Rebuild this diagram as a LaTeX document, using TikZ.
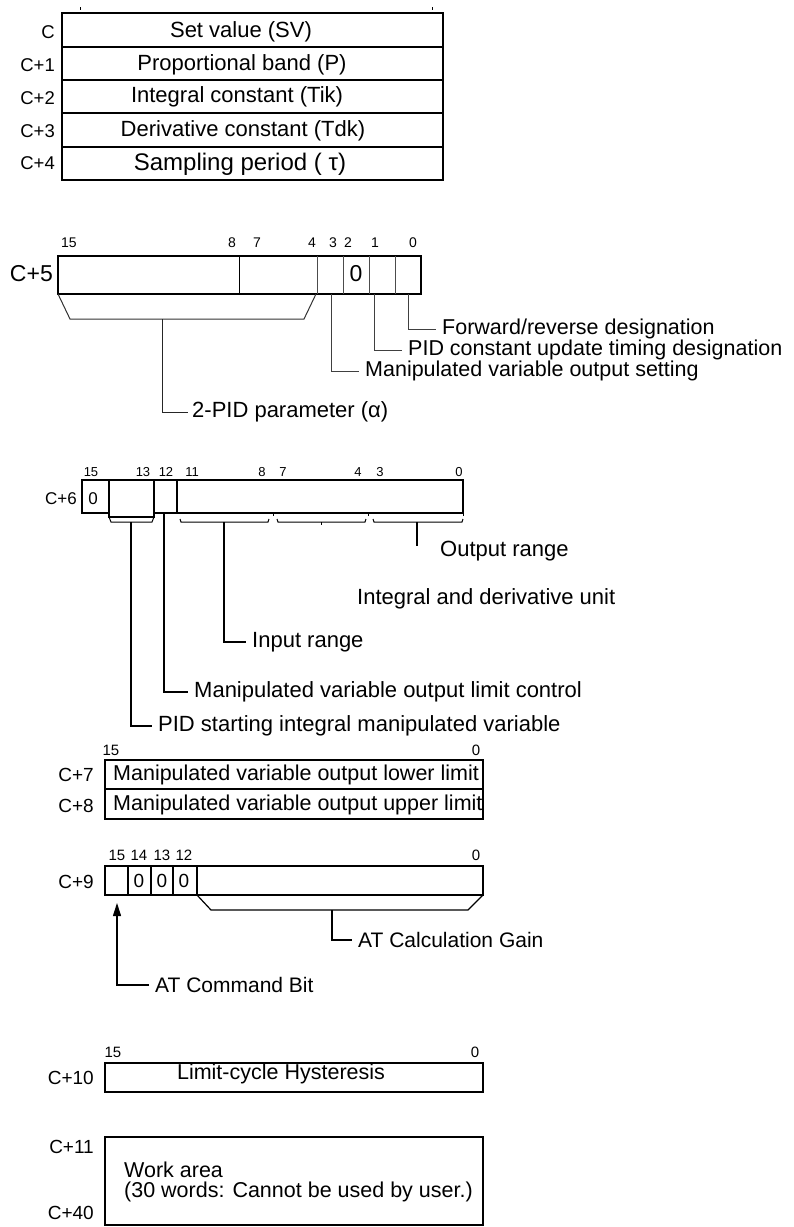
\documentclass[tikz,border=0pt]{standalone}
\usepackage{fontspec}
\setmainfont{Liberation Sans}
\usetikzlibrary{arrows.meta}
\begin{document}
\begin{tikzpicture}[x=1pt,y=-1pt,
  fs/.style={font=\fontsize{#1}{#1}\selectfont},
  txt/.style={fs=22, inner sep=0pt},
  lbl/.style={fs=22, anchor=west, inner sep=0pt},
  reg/.style={fs=19, anchor=east, inner sep=0pt},
  bitno/.style={fs=15, inner sep=0pt},
  smallbit/.style={fs=13, inner sep=0pt},
  heavy/.style={line width=2.6pt},
  lead/.style={line width=1pt},
  gap/.style={xshift=-6pt}
]
\fill[white] (0,0) rectangle (793,1227);
\useasboundingbox (0,0) rectangle (793,1227);

% ---------- C .. C+4 table
\draw[line width=1.3pt] (62,13) rectangle (443,180);
\draw[line width=2pt] (62,13) -- (443,13);
\foreach \y in {47,80,113,147} \draw[line width=1.2pt] (62,\y) -- (443,\y);
\draw[line width=0.8pt] (80,7) -- (80,10);
\draw[line width=0.8pt] (432,7) -- (432,10);
\node[reg, fs=18.5] (rc0) at (55,32) {C};
\node[reg, fs=18.5] (rc1) at (55,65) {C+1};
\node[reg, fs=18.5] (rc2) at (55,98) {C+2};
\node[reg, fs=18.5] (rc3) at (55,131) {C+3};
\node[reg, fs=18.5] (rc4) at (55,163) {C+4};
\node[txt] (tsv) at (241,32) {Set value (SV)};
\node[txt] (tpb) at (242,65) {Proportional band (P)};
\node[txt] (tic) at (237,97) {Integral constant (Tik)};
\node[txt] (tdc) at (243,131) {Derivative constant (Tdk)};
\node[txt, fs=24] (tsp) at (240,164) {Sampling period ( τ)};

% ---------- C+5
\draw[heavy] (58,256) rectangle (421,294);
\draw[line width=1pt] (239,256) -- (239,294);
\foreach \x in {317,343,369,395} \draw[line width=1pt, black!70] (\x,256) -- (\x,294);
\node[reg, fs=23] (r5) at (53,274) {C+5};
\node[txt, fs=23] (z5) at (356,274) {0};
\foreach \x/\t in {69/15,232/8,257/7,312/4,333/3,348/2,375/1,413/0}
  \node[smallbit, fs=14] at (\x,243) {\t};
\draw[lead, black!80] (58,294) -- (70,319) -- (304,319) -- (316,294);
\node[lbl, fs=21.5] (fwd) at (442,329) {Forward/reverse designation};
\node[lbl, fs=21.5] (pidc) at (408,350) {PID constant update timing designation};
\node[lbl, fs=21.5] (mvos) at (365,371) {Manipulated variable output setting};
\node[lbl] (pid2) at (192,412) {2-PID parameter (α)};
\coordinate (s5a) at (408,294);
\coordinate (s5b) at (374,294);
\coordinate (s5c) at (331,294);
\coordinate (s5d) at (162,319);
\draw[lead, black!75] (s5a) |- ([gap]fwd.west);
\draw[lead, black!75] (s5b) |- ([gap]pidc.west);
\draw[lead, black!75] (s5c) |- ([gap]mvos.west);
\draw[lead, black!85] (s5d) |- ([xshift=-4pt]pid2.west);

% ---------- C+6
\draw[line width=1.2pt] (82,480) rectangle (463,513);
\filldraw[fill=white, line width=1.1pt] (109,480) rectangle (154,517);
\draw[line width=1pt] (109,517) -- (111,522) -- (152,522) -- (154,517);
\draw[line width=2pt] (177,480) -- (177,513);
\foreach \x in {273,368,463} \draw[line width=1pt] (\x,513) -- (\x,516);
\draw[line width=1pt] (180,519) -- (181,522) -- (268,522) -- (269,519);
\draw[line width=1pt] (277,519) -- (278,522) -- (365,522) -- (366,519);
\draw[line width=1pt] (373,519) -- (374,522) -- (462,522) -- (463,519);
\draw[line width=1pt] (321,522) -- (321,525);
\node[reg, fs=17] (r6) at (77,499) {C+6};
\node[txt, fs=17] (z6) at (93,499) {0};
\foreach \x/\t in {91/15,143/13,166/12,192/11,262/8,283/7,358/4,380/3,459/0}
  \node[smallbit] at (\x,472) {\t};
\node[lbl] (outr) at (440,551) {Output range};
\node[lbl] (idu) at (357,599) {Integral and derivative unit};
\node[lbl] (inr) at (252,642) {Input range};
\node[lbl] (mvlc) at (194,692) {Manipulated variable output limit control};
\node[lbl] (pids) at (158,726) {PID starting integral manipulated variable};
\coordinate (s6o) at (417,522);
\coordinate (s6oe) at (417,546);
\coordinate (s6i) at (224,522);
\coordinate (s6m) at (164,513);
\coordinate (s6p) at (131,522);
\draw[line width=1.1pt] (s6o) -- (s6oe);
\draw[line width=1.1pt] (s6i) |- ([gap]inr.west);
\draw[line width=1.1pt] (s6m) |- ([gap]mvlc.west);
\draw[line width=1.1pt] (s6p) |- ([gap]pids.west);

% ---------- C+7 / C+8
\draw[heavy] (105,760) rectangle (483,819);
\draw[line width=1.5pt] (105,789) -- (483,789);
\node[bitno] at (111,750) {15};
\node[bitno] at (476,750) {0};
\node[reg] (r7) at (94,775) {C+7};
\node[reg] (r8) at (94,806) {C+8};
\node[lbl, fs=21.5] (lo) at (113,775) {Manipulated variable output lower limit};
\node[lbl, fs=21.5] (up) at (113,805) {Manipulated variable output upper limit};

% ---------- C+9
\draw[heavy] (105,866) rectangle (483,895);
\foreach \x in {128,151,173,197} \draw[line width=2pt] (\x,866) -- (\x,895);
\foreach \x in {139,162,184} \node[txt, fs=19] at (\x,881) {0};
\node[reg] (r9) at (94,882) {C+9};
\foreach \x/\t in {117/15,139/14,162/13,184/12,476/0}
  \node[bitno] at (\x,855) {\t};
\draw[line width=1.2pt] (197,895) -- (211,910) -- (468,910) -- (483,895);
\node[lbl, fs=21] (atg) at (358,940) {AT Calculation Gain};
\node[lbl, fs=21] (atc) at (155,985) {AT Command Bit};
\coordinate (s9g) at (332,910);
\coordinate (s9a) at (117,903);
\draw[line width=1.1pt] (s9g) |- ([gap]atg.west);
\draw[line width=1.1pt, -{Triangle[length=13pt,width=8pt]}] ([gap]atc.west) -| (s9a);

% ---------- C+10
\draw[heavy] (105,1063) rectangle (483,1092);
\node[bitno] at (113,1052) {15};
\node[bitno] at (475,1052) {0};
\node[reg] (r10) at (94,1078) {C+10};
\node[txt, fs=21.5] (lch) at (281,1074) {Limit-cycle Hysteresis};

% ---------- C+11 .. C+40
\draw[heavy] (105,1137) rectangle (483,1225);
\node[reg] (r11) at (94,1147) {C+11};
\node[reg] (r40) at (94,1213) {C+40};
\node[lbl, fs=21.5] (wa1) at (124,1170) {Work area};
\node[lbl, fs=21.5] (wa2) at (124,1192) {(30 words: Cannot be used by user.)};
\end{tikzpicture}
\end{document}
